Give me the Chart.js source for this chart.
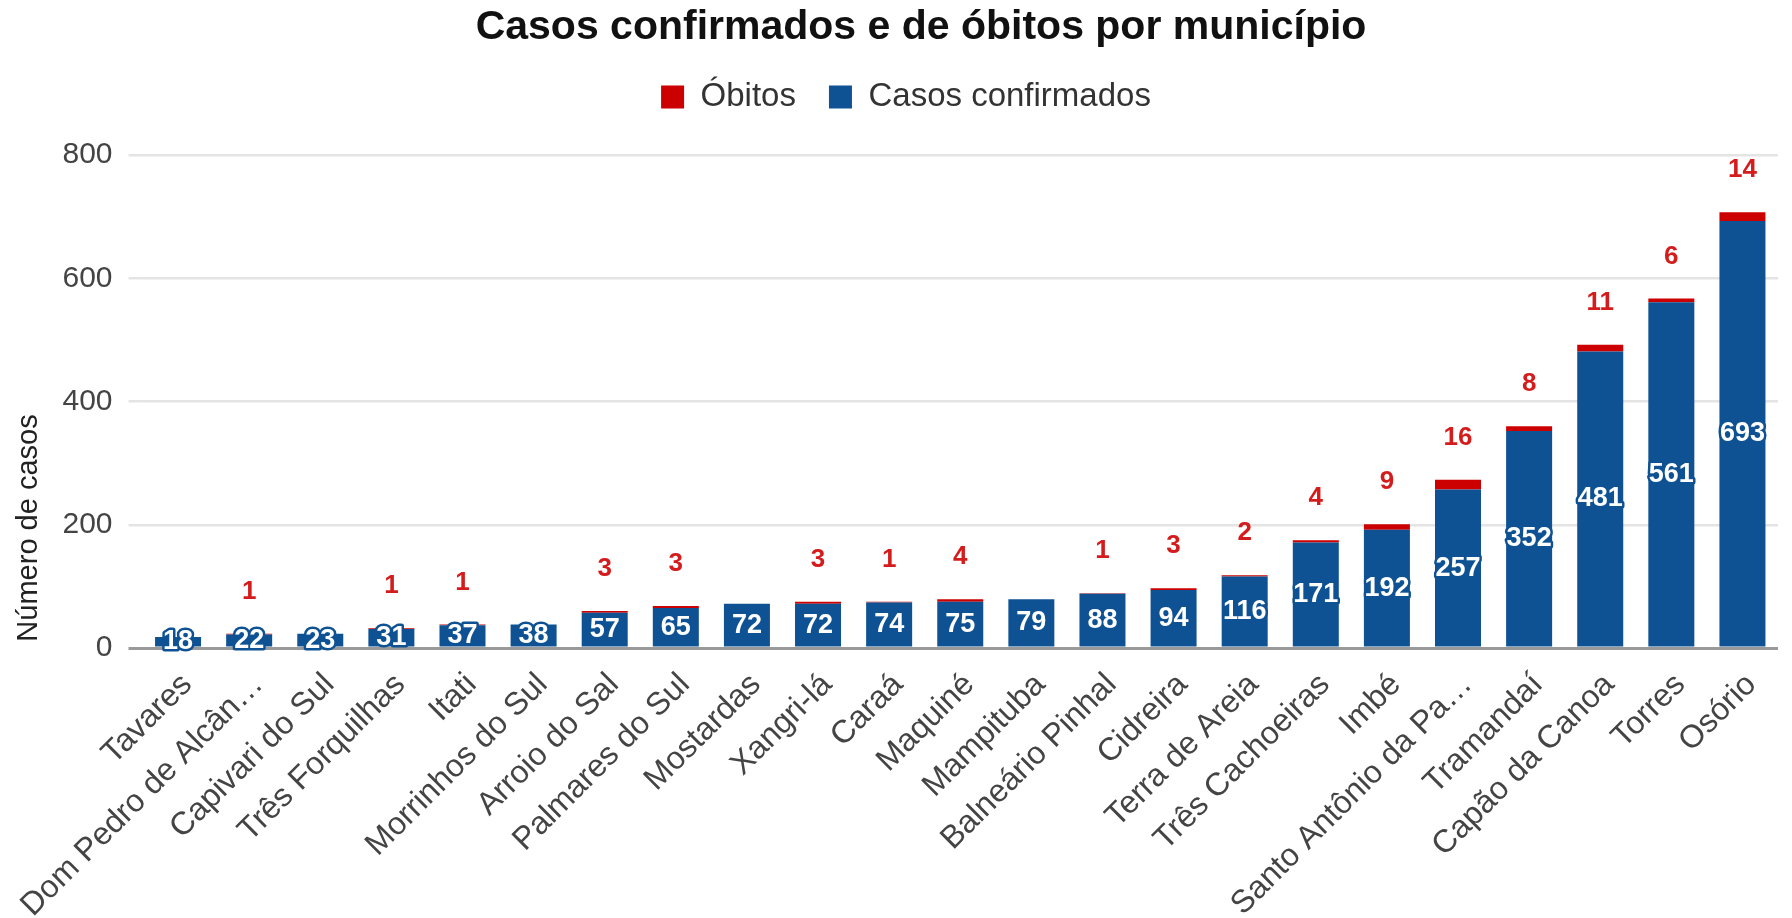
<!DOCTYPE html>
<html>
<head>
<meta charset="utf-8">
<script src="https://cdn.jsdelivr.net/npm/chart.js@4.4.1/dist/chart.umd.min.js"></script>
<style>
  html, body { margin: 0; padding: 0; background: #fff; }
  #wrap { width: 1792px; height: 918px; }
</style>
</head>
<body>
<div id="wrap"><canvas id="chart" width="1792" height="918"></canvas></div>
<script>
'use strict';

// Municipalities (x axis)
const municipios = [
  'Tavares', 'Dom Pedro de Alcân\u2026', 'Capivari do Sul', 'Três Forquilhas', 'Itati',
  'Morrinhos do Sul', 'Arroio do Sal', 'Palmares do Sul', 'Mostardas', 'Xangri-lá',
  'Caraá', 'Maquiné', 'Mampituba', 'Balneário Pinhal', 'Cidreira', 'Terra de Areia',
  'Três Cachoeiras', 'Imbé', 'Santo Antônio da Pa\u2026', 'Tramandaí', 'Capão da Canoa',
  'Torres', 'Osório'
];

// Confirmed cases
const casos = [18, 22, 23, 31, 37, 38, 57, 65, 72, 72, 74, 75, 79, 88, 94, 116, 171, 192, 257, 352, 481, 561, 693];

// Deaths (null = none)
const obitos = [null, 1, null, 1, 1, null, 3, 3, null, 3, 1, 4, null, 1, 3, 2, 4, 9, 16, 8, 11, 6, 14];

// Y axis ticks
const yTicks = [0, 200, 400, 600, 800];

const TITLE = 'Casos confirmados e de óbitos por município';
const Y_TITLE = 'Número de casos';

const BLUE = '#0f5294';
const RED = '#cc0000';
const FONT = "'Liberation Sans', Arial, sans-serif";

// Push the legend's bottom edge down so the plot starts where the original does
const legendSpacer = {
  id: 'legendSpacer',
  beforeLayout(chart) {
    const lg = chart.legend;
    if (lg && !lg._spaced) {
      const fit = lg.fit;
      lg.fit = function () { fit.call(this); this.height += 31.5; };
      lg._spaced = true;
    }
  }
};

// Main title and vertical axis title, placed like the original
const titles = {
  id: 'titles',
  afterDraw(chart) {
    const { ctx } = chart;
    ctx.save();
    ctx.textAlign = 'center';
    ctx.textBaseline = 'middle';

    ctx.font = `bold 41px ${FONT}`;
    ctx.fillStyle = '#111';
    ctx.fillText(TITLE, 921, 28);

    ctx.translate(29, 528);
    ctx.rotate(-Math.PI / 2);
    ctx.font = `29px ${FONT}`;
    ctx.fillStyle = '#222';
    ctx.fillText(Y_TITLE, 0, 0);
    ctx.restore();
  }
};

// Value labels: white with blue halo inside the bars, red above the stacks
const valueLabels = {
  id: 'valueLabels',
  afterDatasetsDraw(chart) {
    const { ctx } = chart;
    const casosMeta = chart.getDatasetMeta(0);
    const obitosMeta = chart.getDatasetMeta(1);
    ctx.save();
    ctx.textAlign = 'center';
    ctx.textBaseline = 'middle';
    ctx.lineJoin = 'round';

    ctx.font = `bold 27px ${FONT}`;
    casosMeta.data.forEach((bar, i) => {
      const y = (bar.y + bar.base) / 2;
      ctx.strokeStyle = BLUE;
      ctx.lineWidth = 5;
      ctx.strokeText(String(casos[i]), bar.x, y);
      ctx.fillStyle = '#fff';
      ctx.fillText(String(casos[i]), bar.x, y);
    });

    ctx.font = `bold 26px ${FONT}`;
    ctx.fillStyle = '#d41c1c';
    obitosMeta.data.forEach((bar, i) => {
      if (obitos[i] == null) return;
      ctx.fillText(String(obitos[i]), bar.x, bar.y - 42);
    });
    ctx.restore();
  }
};

const configuration = {
  type: 'bar',
  data: {
    labels: municipios,
    datasets: [
      {
        label: 'Casos confirmados',
        data: casos,
        backgroundColor: BLUE,
        borderWidth: 0,
        categoryPercentage: 1,
        barPercentage: 0.647
      },
      {
        label: 'Óbitos',
        data: obitos,
        backgroundColor: RED,
        borderWidth: 0,
        categoryPercentage: 1,
        barPercentage: 0.647
      }
    ]
  },
  options: {
    responsive: false,
    animation: false,
    layout: {
      padding: { top: 47.5, left: 34, right: 14, bottom: 0 }
    },
    plugins: {
      title: { display: false },
      legend: {
        display: true,
        reverse: true,
        labels: {
          color: '#333',
          font: { family: FONT, size: 33 },
          boxWidth: 23,
          boxHeight: 23,
          padding: 33
        }
      },
      tooltip: { enabled: false }
    },
    scales: {
      x: {
        stacked: true,
        grid: { display: false },
        border: { display: false },
        ticks: {
          color: '#444',
          font: { family: FONT, size: 32 },
          autoSkip: false,
          maxRotation: 45,
          minRotation: 45,
          labelOffset: 9,
          padding: 10
        },
        afterFit(scale) { scale.height = 270; }
      },
      y: {
        stacked: true,
        min: 0,
        max: 800,
        border: { display: false },
        grid: {
          color: ctx => (ctx.tick && ctx.tick.value === 0 ? '#9a9a9a' : '#e4e4e4'),
          lineWidth: ctx => (ctx.tick && ctx.tick.value === 0 ? 3 : 2.5),
          drawTicks: true,
          tickLength: 14
        },
        ticks: {
          color: '#444',
          font: { family: FONT, size: 30 },
          padding: 16
        },
        afterBuildTicks(scale) { scale.ticks = yTicks.map(v => ({ value: v })); },
        afterFit(scale) { scale.width = 108.5; }
      }
    }
  },
  plugins: [legendSpacer, titles, valueLabels]
};

new Chart(document.getElementById('chart').getContext('2d'), configuration);
</script>
</body>
</html>
